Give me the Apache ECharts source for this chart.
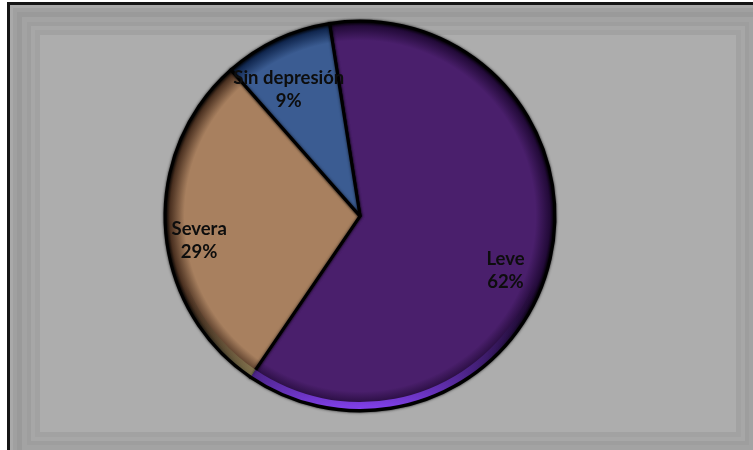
<!DOCTYPE html>
<html>
<head>
<meta charset="utf-8">
<style>
  html, body { margin: 0; padding: 0; background: #ffffff; }
  #chart { width: 753px; height: 450px; }
</style>
<script src="https://cdn.jsdelivr.net/npm/echarts@6/dist/echarts.min.js"></script>
</head>
<body>
<div id="chart"></div>
<script>
// Nivel de depresión (porcentaje de casos)
const categories = ['Leve', 'Severa', 'Sin depresión'];
const values = [62, 29, 9];

const baseColors = {
  'Leve': '#4a1f6c',
  'Severa': '#a8805f',
  'Sin depresión': '#3b5c92'
};
// darker tone toward the outer edge of each slice
const edgeColors = {
  'Leve': '#220a38',
  'Severa': '#4a3020',
  'Sin depresión': '#10264e'
};
// light rim colour along the lower edge of each slice
const rimColors = {
  'Leve': 'rgba(140, 70, 255, 0.95)',
  'Severa': 'rgba(225, 215, 145, 0.9)',
  'Sin depresión': 'rgba(60, 140, 240, 0.9)'
};
// small nudges so the labels sit where the layout puts them
const labelNudge = {
  'Leve': [-4, 21],
  'Severa': [-8, 15],
  'Sin depresión': [-6, 12]
};

const CX = 360, CY = 216, R = 195;
const START = 99;

const chart = echarts.init(document.getElementById('chart'), null, { renderer: 'canvas' });

// beveled picture frame behind the plot
const frameShades = ['#a9a9a9', '#a0a0a0', '#9a9a9a', '#a3a3a3', '#9e9e9e', '#a7a7a7', '#a2a2a2', '#adadad'];
const frameInsets = [0, 3, 7, 12, 17, 21, 25, 30];
const frameX = 10, frameY = 5, frameW = 756, frameH = 457;
const frame = frameShades.map((c, i) => ({
  type: 'rect',
  silent: true,
  z: -10,
  shape: {
    x: frameX + frameInsets[i],
    y: frameY + frameInsets[i],
    width: frameW - 2 * frameInsets[i],
    height: frameH - 2 * frameInsets[i]
  },
  style: { fill: c }
}));
frame.unshift(
  { type: 'rect', silent: true, z: -11, shape: { x: 7, y: 2, width: 760, height: 460 }, style: { fill: '#151515' } }
);

function sliceFill(name) {
  const base = baseColors[name];
  return new echarts.graphic.RadialGradient(CX, CY, R, [
    { offset: 0, color: base },
    { offset: 0.9, color: base },
    { offset: 0.975, color: edgeColors[name] },
    { offset: 1, color: '#000000' }
  ], true);
}

function rimFill(name) {
  const rim = rimColors[name];
  return new echarts.graphic.LinearGradient(0, CY + R * 0.35, 0, CY + R, [
    { offset: 0, color: 'rgba(0,0,0,0)' },
    { offset: 1, color: rim }
  ], true);
}

const pieData = categories.map((name, i) => ({
  name: name,
  value: values[i],
  itemStyle: { color: sliceFill(name) }
}));

const rimData = categories.map((name, i) => ({
  name: name,
  value: values[i],
  itemStyle: { color: rimFill(name) }
}));

const labelData = categories.map((name, i) => ({
  name: name,
  value: values[i],
  label: { offset: labelNudge[name] }
}));

chart.setOption({
  backgroundColor: '#ffffff',
  animation: false,
  graphic: frame,
  series: [
    {
      type: 'pie',
      center: [CX, CY],
      radius: [0, R],
      startAngle: START,
      clockwise: true,
      silent: true,
      label: { show: false },
      labelLine: { show: false },
      itemStyle: {
        borderColor: '#000000',
        borderWidth: 3,
        shadowBlur: 3,
        shadowColor: 'rgba(0,0,0,0.7)'
      },
      data: pieData
    },
    {
      type: 'pie',
      center: [CX, CY],
      radius: [R - 9, R - 2],
      startAngle: START,
      clockwise: true,
      silent: true,
      label: { show: false },
      labelLine: { show: false },
      itemStyle: { borderWidth: 0 },
      data: rimData
    },
    {
      type: 'pie',
      center: [CX, CY],
      radius: [R * 0.62, R * 0.92],
      startAngle: START,
      clockwise: true,
      silent: true,
      itemStyle: { color: 'rgba(0,0,0,0)', borderWidth: 0 },
      labelLine: { show: false },
      label: {
        show: true,
        position: 'inside',
        formatter: (p) => p.name + '\n' + p.value + '%',
        color: '#0d0d0d',
        fontFamily: 'Lato',
        fontWeight: 'bold',
        fontSize: 18.5,
        lineHeight: 23,
        align: 'center'
      },
      data: labelData
    }
  ]
});
</script>
</body>
</html>
